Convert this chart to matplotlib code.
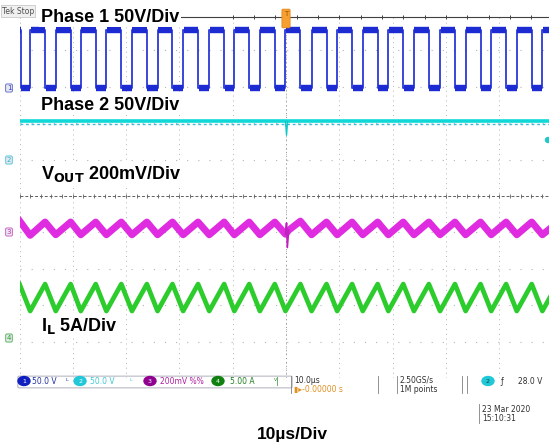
import numpy as np
import matplotlib.pyplot as plt
from matplotlib import patches

plt.rcParams['font.family'] = ['Liberation Sans', 'DejaVu Sans']

W, H = 549, 448

# ---- scope channel settings -------------------------------------------
# ground marker of each channel, in divisions above screen centre
ch1_scale, ch1_gnd = 50.0, 2.97     # Phase 1, V/div
ch2_scale, ch2_gnd = 50.0, 0.99     # Phase 2, V/div
ch3_scale, ch3_gnd = 200.0, -0.99   # VOUT, mV/div
ch4_scale, ch4_gnd = 5.0, -3.90     # IL, A/div

# ---- Phase 1 switch node (edges, us) -----------------------------------
p1_rise_us = [-48.0, -43.2, -38.5, -33.7, -28.9, -24.1, -19.3, -14.4, -9.7, -4.9,
              -0.1, 4.8, 9.6, 14.4, 19.2, 24.0, 28.9, 33.7, 38.5, 43.3, 48.1]
p1_fall_us = [-49.8, -45.2, -40.4, -35.7, -30.9, -26.1, -21.3, -16.5, -11.6, -6.9,
              -2.1, 2.7, 7.6, 12.4, 17.2, 22.0, 26.8, 31.7, 36.5, 41.3, 46.1]
p1_high_v = 80.0
p1_low_v = 0.0

# ---- Phase 2 (flat on this capture) -------------------------------------
p2_time_us = [-50.0, 50.0]
p2_v = [53.0, 53.0]
p2_glitch_us = [-0.1, 0.1, 0.3]
p2_glitch_v = [53.0, 34.0, 53.0]

# ---- VOUT ripple ---------------------------------------------------------
vout_time_us = [-50.0, -48.0, -45.2, -43.2, -40.4, -38.5, -35.7, -33.7, -30.9, -28.9,
                -26.1, -24.1, -21.3, -19.3, -16.5, -14.4, -11.6, -9.7, -6.9, -4.9,
                -2.1, -0.1, 0.5, 2.7, 4.8, 7.6, 9.6, 12.4, 14.4, 17.2,
                19.2, 22.0, 24.0, 26.8, 28.9, 31.7, 33.7, 36.5, 38.5, 41.3, 43.3,
                46.1, 48.1, 50.0]
vout_mv = [62, -18, 55, -15, 55, -15, 55, -15, 55, -15,
           55, -15, 55, -15, 55, -15, 55, -15, 55, -15,
           55, -12, 10, 60, -15, 55, -15, 55, -15, 55,
           -15, 55, -15, 55, -15, 55, -15, 55, -15, 55, -15,
           55, -15, 30]
vout_glitch_us = [-0.1, 0.1, 0.25, 0.5]
vout_glitch_mv = [-12, 50, -85, 10]

# ---- inductor current ----------------------------------------------------
il_time_us = [-50.0, -48.0, -45.2, -43.2, -40.4, -38.5, -35.7, -33.7, -30.9, -28.9,
              -26.1, -24.1, -21.3, -19.3, -16.5, -14.4, -11.6, -9.7, -6.9, -4.9,
              -2.1, -0.1, 2.7, 4.8, 7.6, 9.6, 12.4, 14.4, 17.2, 19.2, 22.0, 24.0,
              26.8, 28.9, 31.7, 33.7, 36.5, 38.5, 41.3, 43.3, 46.1, 48.1, 50.0]
il_amp = [7.4, 3.7, 7.4, 3.7, 7.4, 3.7, 7.4, 3.7, 7.4, 3.7,
          7.4, 3.7, 7.4, 3.7, 7.4, 3.7, 7.4, 3.7, 7.4, 3.7,
          7.4, 3.7, 7.4, 3.7, 7.4, 3.7, 7.4, 3.7, 7.4, 3.7, 7.4, 3.7,
          7.4, 3.7, 7.4, 3.7, 7.4, 3.7, 7.4, 3.7, 7.4, 3.7, 6.2]


def px(x, y):
    return x / W, 1 - y / H


def to_div(v, scale, gnd):
    return np.asarray(v, dtype=float) / scale + gnd


fig = plt.figure(figsize=(W / 100, H / 100), dpi=100)
fig.patch.set_facecolor('white')
# screen area: x 19.5..552.5 px, y 14..378 px (10 x 10 divisions)
ax = fig.add_axes([19.5 / W, (H - 378) / H, 533 / W, 364 / H])
ax.set_xlim(-50, 50)
ax.set_ylim(-5, 5)
ax.axis('off')

# graticule
for t in np.arange(-50, 51, 10):
    ax.axvline(t, color='#b4b4b4', lw=0.7, ls=(0, (1, 4)), zorder=0)
for d in np.arange(-4, 5, 1):
    if d == 0:
        continue
    ax.axhline(d, color='#b4b4b4', lw=0.8, ls=(0, (1, 9)), zorder=0)
ax.axhline(0, color='#606060', lw=0.7, ls=(0, (3, 2)), zorder=0)
ax.plot(np.arange(-50, 51, 2), np.zeros(51), ls='none', marker='|', ms=3,
        color='#606060', mew=0.6, zorder=0)
ax.axvline(0, color='#909090', lw=0.7, ls=(0, (1, 3)), zorder=0)

# record bar at top
ax.plot([-45, 50], [4.92, 4.92], color='#404040', lw=0.8, zorder=1)
ax.plot(np.arange(-10, 51, 4), np.full(16, 4.92), ls='none', marker='|', ms=3,
        color='#404040', mew=0.7, zorder=1)

# Phase 1 step trace
edges = sorted([(t, 1) for t in p1_rise_us] + [(t, 0) for t in p1_fall_us])
t1 = [-50.0]
v1 = [p1_high_v]
level = p1_high_v
for t, up in edges:
    new = p1_high_v if up else p1_low_v
    t1 += [t, t]
    v1 += [level, new]
    level = new
t1.append(50.0)
v1.append(level)
blue = '#1c2bd2'
ax.plot(t1, to_div(v1, ch1_scale, ch1_gnd), color='#2a38d8', lw=1.3, zorder=3)
for i in range(len(t1) - 1):
    if v1[i] == v1[i + 1] and t1[i + 1] > t1[i]:
        ax.plot([t1[i] + 0.1, t1[i + 1]],
                to_div([v1[i], v1[i]], ch1_scale, ch1_gnd),
                color=blue, lw=4.6, solid_capstyle='butt', zorder=3)

# Phase 2
ax.plot([-50, 50], to_div([49.5, 49.5], ch2_scale, ch2_gnd), color='#40b8d8',
        lw=1.0, ls=(0, (2, 2)), zorder=2)
ax.plot(p2_time_us, to_div(p2_v, ch2_scale, ch2_gnd), color='#10d8d8', lw=2.6, zorder=3)
ax.plot(p2_glitch_us, to_div(p2_glitch_v, ch2_scale, ch2_gnd), color='#10c8c8', lw=1.0,
        zorder=3)

# VOUT
ax.plot(vout_time_us, to_div(vout_mv, ch3_scale, ch3_gnd), color='#e02ce0', lw=5.0,
        zorder=3)
ax.plot(vout_glitch_us, to_div(vout_glitch_mv, ch3_scale, ch3_gnd), color='#c020c0',
        lw=1.2, zorder=3)

# IL
ax.plot(il_time_us, to_div(il_amp, ch4_scale, ch4_gnd), color='#2ccc2c', lw=3.4,
        zorder=3)

# channel ground markers on the left
for y, c, lab in [(88, '#3040c0', '1'), (160, '#20b8c8', '2'),
                  (232, '#c030b0', '3'), (338, '#20a020', '4')]:
    fig.text(*px(9, y), lab, fontsize=5, color=c, ha='center', va='center',
             family='DejaVu Sans',
             bbox=dict(boxstyle='round,pad=0.15', fc='#e8e8f0', ec=c, lw=0.5))
# trigger level marker (right edge)
fig.patches.append(patches.Ellipse(px(548, 140), 5 / W, 5 / H, transform=fig.transFigure,
                                   color='#20c8c8'))
# trigger position marker
fig.patches.append(patches.FancyBboxPatch(px(283, 27), 6 / W, 17 / H,
                                          boxstyle='round,pad=0.002',
                                          transform=fig.transFigure, fc='#f5a030',
                                          ec='#e08010', lw=0.5))
fig.text(*px(286, 14), 'T', fontsize=5, color='#a05000', ha='center', va='center',
         family='DejaVu Sans')

# Tek Stop
fig.text(*px(2, 11), 'Tek Stop', fontsize=5.5, color='#505050', ha='left', va='center',
         family='DejaVu Sans', bbox=dict(boxstyle='square,pad=0.15', fc='#f0f0f0',
                                         ec='#c0c0c0', lw=0.5))

# channel labels
lab_kw = dict(fontsize=13, fontweight='bold', color='black', ha='left', va='center',
              bbox=dict(boxstyle='square,pad=0.1', fc='white', ec='none'), zorder=10)
fig.text(*px(41, 17), 'Phase 1 50V/Div', **lab_kw)
fig.text(*px(41, 105), 'Phase 2 50V/Div', **lab_kw)
fig.text(*px(41, 174), r'V$_{\mathbf{OUT}}$ 200mV/Div', **lab_kw)
fig.text(*px(41, 326), r'I$_{\mathbf{L}}$ 5A/Div', **lab_kw)
fig.text(*px(292, 434), '10µs/Div', fontsize=12.5, fontweight='bold', ha='center',
         va='center')

# status bar
sk = dict(fontsize=5.5, family='DejaVu Sans', va='center', ha='left')
fig.patches.append(patches.FancyBboxPatch(px(19, 387), 272 / W, 10 / H,
                                          boxstyle='round,pad=0.002',
                                          transform=fig.transFigure, fc='none',
                                          ec='#a0a0b0', lw=0.6))
for x, fc, lab in [(24, '#1020c0', '1'), (80, '#20c8d8', '2'),
                   (150, '#900090', '3'), (218, '#108010', '4')]:
    fig.patches.append(patches.Ellipse(px(x, 381), 12 / W, 9 / H,
                                       transform=fig.transFigure, color=fc))
    fig.text(*px(x, 381), lab, fontsize=4.5, color='white', ha='center', va='center',
             family='DejaVu Sans')
fig.text(*px(32, 381), '50.0 V', color='#2030a0', **sk)
fig.text(*px(66, 381), 'ᴸ', color='#2030a0', **sk)
fig.text(*px(90, 381), '50.0 V', color='#40c8d0', **sk)
fig.text(*px(130, 381), 'ᴸ', color='#40c8d0', **sk)
fig.text(*px(160, 381), '200mV %%', color='#b020a0', **sk)
fig.text(*px(230, 381), '5.00 A', color='#208020', **sk)
fig.text(*px(274, 381), 'ⱽ|', color='#208020', **sk)
fig.text(*px(294, 380), '10.0µs', color='#303030', **sk)
fig.text(*px(294, 389), '▮▸-0.00000 s', color='#e09020', **sk)
fig.text(*px(400, 380), '2.50GS/s', color='#303030', **sk)
fig.text(*px(400, 389), '1M points', color='#303030', **sk)
for x0, x1 in [(291, 378), (397, 462), (467, 549)]:
    fig.lines.append(plt.Line2D([x0 / W, x0 / W], [1 - 376 / H, 1 - 393 / H],
                                transform=fig.transFigure, color='#808080', lw=0.6))
    fig.lines.append(plt.Line2D([x1 / W, x1 / W], [1 - 376 / H, 1 - 393 / H],
                                transform=fig.transFigure, color='#808080', lw=0.6))
fig.patches.append(patches.Ellipse(px(488, 381), 12 / W, 9 / H,
                                   transform=fig.transFigure, color='#20c8d8'))
fig.text(*px(488, 381), '2', fontsize=4.5, color='#104040', ha='center', va='center',
         family='DejaVu Sans')
fig.text(*px(500, 381), 'ƒ', color='#303030', **sk)
fig.text(*px(518, 381), '28.0 V', color='#303030', **sk)
fig.text(*px(482, 409), '23 Mar 2020', color='#303030', **sk)
fig.text(*px(482, 418), '15:10:31', color='#303030', **sk)
fig.lines.append(plt.Line2D([479 / W, 479 / W], [1 - 404 / H, 1 - 423 / H],
                            transform=fig.transFigure, color='#808080', lw=0.6))

fig.savefig('out.png', dpi=100)
